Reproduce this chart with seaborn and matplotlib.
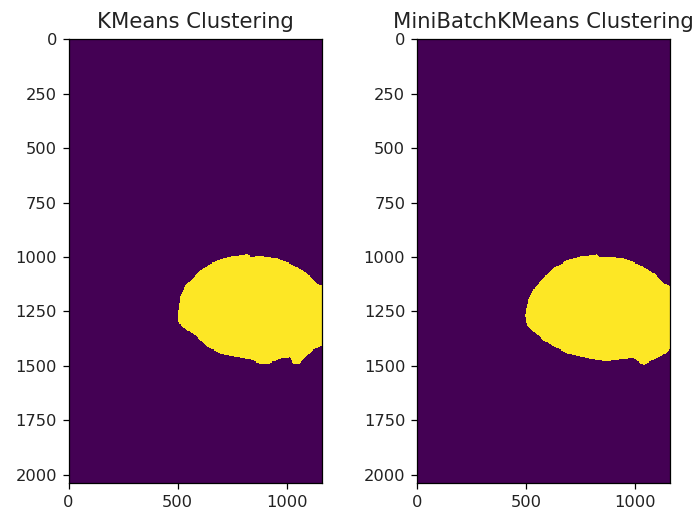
import numpy as np
import matplotlib
matplotlib.use("Agg")
import matplotlib.pyplot as plt
from matplotlib.path import Path
import seaborn as sns

# image size (rows, cols) and raster step used for the heatmap cells
n_rows, n_cols = 2040, 1160
step = 5

titles = ["KMeans Clustering", "MiniBatchKMeans Clustering"]

# outline of the yellow cluster (image coordinates)
kmeans_x = [499, 511, 534, 572, 618, 679, 740, 801, 824, 830, 878, 954, 1030,
            1092, 1138, 1175, 1175, 1122, 1092, 1061, 1030, 1015, 969, 924,
            878, 832, 755, 694, 633, 588, 542, 503]
kmeans_y = [1274, 1182, 1136, 1097, 1051, 1017, 998, 990, 982, 1000, 995, 1006,
            1036, 1074, 1120, 1143, 1404, 1427, 1457, 1488, 1488, 1462, 1468,
            1488, 1488, 1472, 1457, 1442, 1411, 1366, 1335, 1304]

minibatch_x = [496, 511, 534, 573, 626, 687, 748, 809, 825, 835, 870, 947,
               1023, 1084, 1130, 1175, 1175, 1130, 1084, 1038, 992, 931, 870,
               809, 748, 687, 626, 580, 534, 504]
minibatch_y = [1266, 1197, 1151, 1105, 1051, 1017, 998, 990, 986, 1000, 998,
               1006, 1036, 1074, 1120, 1143, 1411, 1449, 1472, 1495, 1465, 1472,
               1480, 1472, 1457, 1442, 1411, 1381, 1342, 1312]

x_ticks = [0, 500, 1000]
y_ticks = [0, 250, 500, 750, 1000, 1250, 1500, 1750, 2000]


def make_mask(xs, ys):
    cx = np.arange(0, n_cols, step) + step / 2
    cy = np.arange(0, n_rows, step) + step / 2
    gx, gy = np.meshgrid(cx, cy)
    path = Path(np.column_stack([xs, ys]))
    inside = path.contains_points(np.column_stack([gx.ravel(), gy.ravel()]))
    return inside.reshape(gx.shape).astype(int)


def main():
    fig = plt.figure(figsize=(6.99, 5.18), dpi=100)
    positions = [[0.098, 0.067, 0.362, 0.857], [0.596, 0.067, 0.3624, 0.857]]
    outlines = [(kmeans_x, kmeans_y), (minibatch_x, minibatch_y)]

    for pos, (xs, ys), title in zip(positions, outlines, titles):
        ax = fig.add_axes(pos)
        mask = make_mask(xs, ys)
        sns.heatmap(mask, cmap="viridis", vmin=0, vmax=1, cbar=False,
                    xticklabels=False, yticklabels=False, ax=ax)
        for side in ["left", "right", "top", "bottom"]:
            ax.spines[side].set_visible(True)
            ax.spines[side].set_linewidth(0.9)
            ax.spines[side].set_color("black")
        ax.set_xticks(np.array(x_ticks) / step)
        ax.set_xticklabels([str(t) for t in x_ticks], rotation=0)
        ax.set_yticks(np.array(y_ticks) / step)
        ax.set_yticklabels([str(t) for t in y_ticks], rotation=0)
        ax.tick_params(length=4.1, width=0.9, pad=4.1, labelsize=11.7,
                       labelcolor="#222222")
        ax.set_title(title, fontsize=15.2, pad=8.5, color="#222222")

    fig.savefig("out.png", dpi=100)


if __name__ == "__main__":
    main()
